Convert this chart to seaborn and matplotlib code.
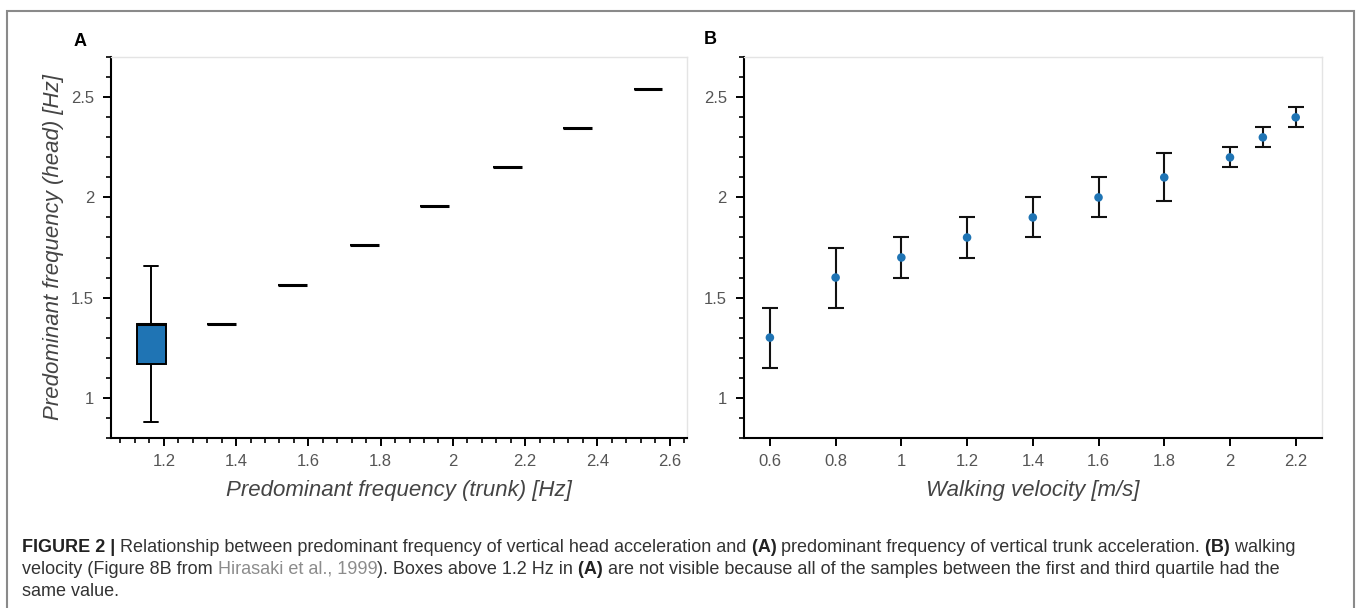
import numpy as np
import pandas as pd
import matplotlib
matplotlib.use("Agg")
import matplotlib.pyplot as plt
import seaborn as sns
from matplotlib.ticker import AutoMinorLocator, FuncFormatter, FixedLocator
from matplotlib.patches import Rectangle

# Panel A: predominant frequency of head vs trunk (box summaries)
trunk_freq = [1.165, 1.36, 1.555, 1.755, 1.95, 2.15, 2.345, 2.54]
head_min = [0.88, 1.37, 1.565, 1.76, 1.955, 2.15, 2.345, 2.54]
head_q1 = [1.17, 1.37, 1.565, 1.76, 1.955, 2.15, 2.345, 2.54]
head_med = [1.37, 1.37, 1.565, 1.76, 1.955, 2.15, 2.345, 2.54]
head_q3 = [1.37, 1.37, 1.565, 1.76, 1.955, 2.15, 2.345, 2.54]
head_max = [1.66, 1.37, 1.565, 1.76, 1.955, 2.15, 2.345, 2.54]

# Panel B: walking velocity vs head frequency (Hirasaki et al., 1999)
velocity = [0.6, 0.8, 1.0, 1.2, 1.4, 1.6, 1.8, 2.0, 2.1, 2.2]
head_mean = [1.3, 1.6, 1.7, 1.8, 1.9, 2.0, 2.1, 2.2, 2.3, 2.4]
head_low = [1.15, 1.45, 1.6, 1.7, 1.8, 1.9, 1.98, 2.15, 2.25, 2.35]
head_high = [1.45, 1.75, 1.8, 1.9, 2.0, 2.1, 2.22, 2.25, 2.35, 2.45]

x_ticks_a = [1.2, 1.4, 1.6, 1.8, 2.0, 2.2, 2.4, 2.6]
x_ticks_b = [0.6, 0.8, 1.0, 1.2, 1.4, 1.6, 1.8, 2.0, 2.2]
y_ticks = [1.0, 1.5, 2.0, 2.5]

caption_lines = [
    [("FIGURE 2 |", "bold", "#222222"),
     (" Relationship between predominant frequency of vertical head acceleration and", "normal", "#333333"),
     (" (A)", "bold", "#222222"),
     (" predominant frequency of vertical trunk acceleration.", "normal", "#333333"),
     (" (B)", "bold", "#222222"),
     (" walking", "normal", "#333333")],
    [("velocity (Figure 8B from", "normal", "#333333"),
     (" Hirasaki et al., 1999", "normal", "#8c8c8c"),
     ("). Boxes above 1.2 Hz in", "normal", "#333333"),
     (" (A)", "bold", "#222222"),
     (" are not visible because all of the samples between the first and third quartile had the", "normal", "#333333")],
    [("same value.", "normal", "#333333")],
]

sns.set_style("ticks")
plt.rcParams["font.family"] = ["Liberation Sans", "DejaVu Sans"]

W, H = 1358, 608
fig = plt.figure(figsize=(W / 100, H / 100), dpi=100)
ax_a = fig.add_axes([110.7 / W, 1 - 437.7 / H, (687 - 110.7) / W, (437.7 - 57.3) / H])
ax_b = fig.add_axes([743.6 / W, 1 - 437.7 / H, (1322 - 743.6) / W, (437.7 - 57.3) / H])

# long-form table, five values per box give the drawn quartiles/whiskers
rows = []
for i, t in enumerate(trunk_freq):
    for v in (head_min[i], head_q1[i], head_med[i], head_q3[i], head_max[i]):
        rows.append({"trunk": t, "head": v})
df_a = pd.DataFrame(rows)

sns.boxplot(data=df_a, x="trunk", y="head", native_scale=True, orient="x",
            width=0.41, color="#1f74b4", saturation=1, linecolor="black",
            linewidth=1.4, fliersize=0, medianprops={"linewidth": 2.2},
            ax=ax_a)

df_b = pd.DataFrame({"velocity": velocity, "head": head_mean,
                     "low": head_low, "high": head_high})
ax_b.errorbar(df_b["velocity"], df_b["head"],
              yerr=[df_b["head"] - df_b["low"], df_b["high"] - df_b["head"]],
              fmt="none", ecolor="#111111", elinewidth=1.5, capsize=6,
              capthick=1.5, zorder=2)
sns.scatterplot(data=df_b, x="velocity", y="head", color="#1f74b4", s=38,
                edgecolor="none", zorder=3, ax=ax_b)

fmt = FuncFormatter(lambda v, p: "%g" % v)
for ax in (ax_a, ax_b):
    ax.set_ylim(0.8, 2.7)
    ax.yaxis.set_major_locator(FixedLocator(y_ticks))
    ax.yaxis.set_minor_locator(AutoMinorLocator(5))
    ax.yaxis.set_major_formatter(fmt)
    ax.xaxis.set_major_formatter(fmt)
    for s in ("left", "bottom"):
        ax.spines[s].set_color("black")
        ax.spines[s].set_linewidth(1.5)
    for s in ("top", "right"):
        ax.spines[s].set_visible(True)
        ax.spines[s].set_color("#e4e4e4")
        ax.spines[s].set_linewidth(1)
    ax.tick_params(which="major", direction="out", length=6, width=1.4,
                   color="black", labelcolor="#555555", labelsize=12, pad=6)
    ax.tick_params(which="minor", direction="out", length=3.5, width=1.2,
                   color="black")
    ax.tick_params(top=False, right=False, which="both")

ax_a.set_xlim(1.053, 2.648)
ax_a.xaxis.set_major_locator(FixedLocator(x_ticks_a))
ax_a.xaxis.set_minor_locator(AutoMinorLocator(5))
ax_b.set_xlim(0.52, 2.28)
ax_b.xaxis.set_major_locator(FixedLocator(x_ticks_b))
ax_b.xaxis.set_minor_locator(FixedLocator([]))

lab = dict(fontsize=16, style="italic", color="#444444")
ax_a.set_xlabel("Predominant frequency (trunk) [Hz]", labelpad=8, **lab)
ax_a.set_ylabel("Predominant frequency (head) [Hz]", labelpad=5, **lab)
ax_b.set_xlabel("Walking velocity [m/s]", labelpad=8, **lab)
ax_b.set_ylabel("")

fig.text(80 / W, 1 - 41 / H, "A", fontsize=13, fontweight="bold",
         ha="center", va="center", color="black")
fig.text(710 / W, 1 - 40 / H, "B", fontsize=13, fontweight="bold",
         ha="center", va="center", color="black")

# outer frame of the figure panel (open at the bottom)
fig.patches.append(Rectangle((7 / W, -0.05), (1354 - 7) / W, 1.05 - 11 / H,
                             transform=fig.transFigure, fill=False,
                             edgecolor="#8a8a8a", linewidth=1.5))

# caption with mixed weights
renderer = fig.canvas.get_renderer()
baselines = [552, 574, 596]
for line, yb in zip(caption_lines, baselines):
    x = 22
    for text, weight, color in line:
        t = fig.text(x / W, 1 - yb / H, text, fontsize=13.0, fontweight=weight,
                     color=color, ha="left", va="baseline")
        bb = t.get_window_extent(renderer)
        x = bb.x1

fig.savefig("out.png", dpi=100)
